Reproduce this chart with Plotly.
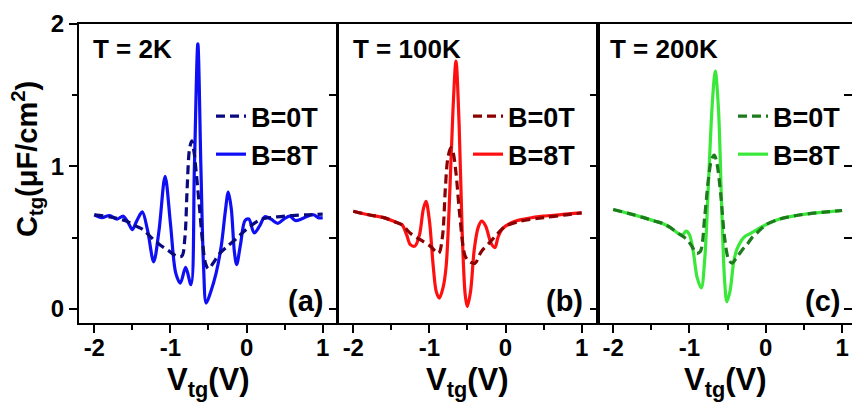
import plotly.graph_objects as go

# ---------------- data ----------------
# Panel (a) T = 2K
a_x_0T = [-2.0, -1.8, -1.6, -1.45, -1.36, -1.25, -1.14, -1.03, -0.92, -0.85, -0.81, -0.78, -0.75, -0.72,
          -0.69, -0.66, -0.62, -0.58, -0.54, -0.50, -0.44, -0.35, -0.25, -0.14, -0.02, 0.1, 0.2, 0.4, 0.6, 0.8, 1.0]
a_y_0T = [0.66, 0.645, 0.62, 0.58, 0.556, 0.50, 0.45, 0.41, 0.37, 0.37, 0.50, 0.85, 1.12, 1.18,
          1.10, 0.95, 0.72, 0.48, 0.32, 0.28, 0.32, 0.39, 0.44, 0.49, 0.55, 0.60, 0.63, 0.645, 0.655, 0.66, 0.665]
a_x_8T = [-2.0, -1.9, -1.8, -1.7, -1.62, -1.55, -1.50, -1.44, -1.37, -1.30, -1.22, -1.15, -1.07, -1.00,
          -0.93, -0.87, -0.80, -0.73, -0.685, -0.64, -0.60, -0.565, -0.53, -0.47, -0.40, -0.33, -0.28, -0.24,
          -0.20, -0.16, -0.13, -0.08, -0.02, 0.03, 0.10, 0.17, 0.24, 0.32, 0.41, 0.49, 0.57, 0.64, 0.72, 0.80,
          0.88, 0.94, 1.0]
a_y_8T = [0.66, 0.64, 0.655, 0.63, 0.65, 0.60, 0.556, 0.62, 0.68, 0.55, 0.33, 0.55, 0.93, 0.60,
          0.25, 0.18, 0.29, 0.17, 1.00, 1.86, 1.00, 0.30, 0.04, 0.12, 0.25, 0.45, 0.68, 0.82,
          0.70, 0.40, 0.31, 0.45, 0.62, 0.63, 0.533, 0.58, 0.646, 0.63, 0.60, 0.63, 0.65, 0.62, 0.63, 0.65,
          0.66, 0.64, 0.64]

# Panel (b) T = 100K
b_x_0T = [-2.0, -1.8, -1.6, -1.45, -1.36, -1.25, -1.12, -0.99, -0.88, -0.83, -0.79, -0.76, -0.72, -0.69,
          -0.65, -0.60, -0.53, -0.47, -0.40, -0.32, -0.20, -0.10, 0.0, 0.2, 0.5, 0.8, 1.0]
b_y_0T = [0.685, 0.66, 0.64, 0.61, 0.59, 0.53, 0.485, 0.44, 0.39, 0.50, 0.85, 1.05, 1.13, 1.10,
          0.95, 0.65, 0.37, 0.33, 0.32, 0.40, 0.47, 0.53, 0.58, 0.615, 0.64, 0.66, 0.674]
b_x_8T = [-2.0, -1.8, -1.6, -1.45, -1.36, -1.30, -1.25, -1.19, -1.13, -1.08, -1.045, -1.00, -0.95,
          -0.91, -0.87, -0.82, -0.78, -0.73, -0.69, -0.651, -0.61, -0.57, -0.53, -0.503, -0.46, -0.41,
          -0.36, -0.313, -0.26, -0.19, -0.139, -0.10, -0.05, 0.1, 0.3, 0.5, 0.7, 0.9, 1.0]
b_y_8T = [0.685, 0.66, 0.64, 0.61, 0.59, 0.52, 0.45, 0.44, 0.52, 0.70, 0.755, 0.62, 0.30,
          0.12, 0.075, 0.15, 0.30, 0.85, 1.40, 1.74, 1.30, 0.55, 0.10, 0.016, 0.12, 0.42,
          0.57, 0.615, 0.58, 0.46, 0.43, 0.50, 0.556, 0.61, 0.635, 0.65, 0.66, 0.67, 0.674]

# Panel (c) T = 200K
c_x_0T = [-2.0, -1.8, -1.6, -1.45, -1.36, -1.25, -1.15, -1.09, -1.03, -0.97, -0.91, -0.86, -0.80, -0.75,
          -0.71, -0.675, -0.64, -0.59, -0.54, -0.49, -0.443, -0.38, -0.30, -0.247, -0.18, -0.10, 0.0, 0.18,
          0.4, 0.6, 0.8, 1.0]
c_y_0T = [0.697, 0.67, 0.64, 0.615, 0.60, 0.57, 0.53, 0.51, 0.486, 0.44, 0.39, 0.40, 0.65, 0.92,
          1.05, 1.08, 1.02, 0.80, 0.50, 0.35, 0.32, 0.36, 0.42, 0.45, 0.50, 0.54, 0.59, 0.63,
          0.655, 0.67, 0.68, 0.69]
c_x_8T = [-2.0, -1.8, -1.6, -1.45, -1.36, -1.25, -1.15, -1.09, -1.045, -1.00, -0.95, -0.90, -0.845,
          -0.80, -0.75, -0.70, -0.662, -0.62, -0.58, -0.54, -0.51, -0.47, -0.42, -0.38, -0.29, -0.2,
          -0.116, 0.0, 0.18, 0.4, 0.6, 0.8, 1.0]
c_y_8T = [0.697, 0.67, 0.64, 0.615, 0.60, 0.57, 0.53, 0.52, 0.545, 0.52, 0.40, 0.22, 0.146,
          0.35, 0.90, 1.45, 1.67, 1.40, 0.75, 0.20, 0.05, 0.12, 0.33, 0.415, 0.50, 0.53,
          0.556, 0.59, 0.63, 0.655, 0.67, 0.68, 0.69]

panel_titles = ["T = 2K", "T = 100K", "T = 200K"]
panel_tags = ["(a)", "(b)", "(c)"]
legend_names = ["B=0T", "B=8T"]
x_ticks = [-2, -1, 0, 1]
y_ticks = [0, 1, 2]

# ---------------- styling ----------------
W, H = 852, 405
FONT = "Liberation Sans, Arial, sans-serif"
colors_0T = ["#0a0a80", "#8b0000", "#1d7a1d"]
colors_8T = ["#0f0ff5", "#ff1010", "#3ae83a"]

# pixel geometry of the three panels
px_left = [79, 338, 598]
px_right = [337, 598, 852]
x_ranges = [[-2.201, 1.188], [-2.201, 1.215], [-2.199, 1.13]]
top_px, bot_px = 24, 323
y_range = [-0.1, 2.0]

fig = go.Figure()

data = [(a_x_0T, a_y_0T, a_x_8T, a_y_8T),
        (b_x_0T, b_y_0T, b_x_8T, b_y_8T),
        (c_x_0T, c_y_0T, c_x_8T, c_y_8T)]

for i, (x0, y0, x8, y8) in enumerate(data):
    sfx = "" if i == 0 else str(i + 1)
    leg = "legend" if i == 0 else f"legend{i + 1}"
    fig.add_trace(go.Scatter(
        x=x8, y=y8, mode="lines", name=legend_names[1],
        line=dict(color=colors_8T[i], width=3.2, shape="spline", smoothing=0.9),
        xaxis="x" + sfx, yaxis="y" + sfx, legend=leg, legendrank=2))
    fig.add_trace(go.Scatter(
        x=x0, y=y0, mode="lines", name=legend_names[0],
        line=dict(color=colors_0T[i], width=3.2, dash="9px,5px", shape="spline", smoothing=0.9),
        xaxis="x" + sfx, yaxis="y" + sfx, legend=leg, legendrank=1))

ydom = [1 - bot_px / H, 1 - top_px / H]
tickfont = dict(family=FONT, size=24, color="black", weight="bold")
layout = dict(width=W, height=H, margin=dict(l=0, r=0, t=0, b=0),
              paper_bgcolor="white", plot_bgcolor="white", showlegend=True)

for i in range(3):
    sfx = "" if i == 0 else str(i + 1)
    xa = dict(domain=[px_left[i] / W, px_right[i] / W], range=x_ranges[i], anchor="y" + sfx,
              showline=True, linecolor="black", linewidth=2, mirror=True,
              ticks="outside", ticklen=8, tickwidth=2, tickcolor="black",
              tickvals=x_ticks, ticktext=[str(v) for v in x_ticks],
              minor=dict(ticks="outside", ticklen=5, tickwidth=2, tickcolor="black", dtick=0.5, showgrid=False),
              tickfont=tickfont, ticklabeloverflow="allow", ticklabelstandoff=-6,
              showgrid=False, zeroline=False, automargin=False)
    ya = dict(domain=ydom, range=y_range, anchor="x" + sfx,
              showline=True, linecolor="black", linewidth=2, mirror=(i < 2),
              showgrid=False, zeroline=False, automargin=False)
    if i == 0:
        ya.update(ticks="outside", ticklen=8, tickwidth=2, tickcolor="black",
                  tickvals=y_ticks, ticktext=[str(v) for v in y_ticks], tickfont=tickfont,
                  ticklabeloverflow="allow",
                  minor=dict(ticks="outside", ticklen=5, tickwidth=2, tickcolor="black", dtick=0.5, showgrid=False))
    else:
        ya.update(showticklabels=False, ticks="")
    layout["xaxis" + sfx] = xa
    layout["yaxis" + sfx] = ya
    # right-side inward ticks
    layout["yaxis" + str(i + 4)] = dict(overlaying="y" + sfx, anchor="x" + sfx, side="right",
                                        range=y_range, ticks="inside", ticklen=8, tickwidth=2,
                                        tickcolor="black", tickvals=[0, 0.5, 1, 1.5],
                                        showticklabels=False, showline=False, showgrid=False,
                                        zeroline=False, automargin=False)

# legends
leg_line_start = [217, 474, 739]
for i in range(3):
    key = "legend" if i == 0 else f"legend{i + 1}"
    layout[key] = dict(x=(leg_line_start[i] - 6) / W, y=1 - 92 / H, xanchor="left", yanchor="top",
                       bgcolor="rgba(0,0,0,0)", borderwidth=0,
                       font=dict(family=FONT, size=27, color="black", weight="bold"),
                       tracegroupgap=0, itemwidth=30, traceorder="normal")

fig.update_layout(**layout)

# dummy traces so that the overlay (right-side tick) axes render
for i in range(3):
    fig.add_trace(go.Scatter(x=[None], y=[None], xaxis="x" + ("" if i == 0 else str(i + 1)),
                             yaxis="y" + str(i + 4), showlegend=False, hoverinfo="skip"))

annots = []
title_left_px = [91, 351, 608]
tag_right_px = [325, 585, 842]
for i in range(3):
    annots.append(dict(text=panel_titles[i], x=title_left_px[i] / W, y=1 - 49 / H, xref="paper", yref="paper",
                       xanchor="left", yanchor="middle", showarrow=False,
                       font=dict(family=FONT, size=26, color="black", weight="bold")))
    annots.append(dict(text=panel_tags[i], x=tag_right_px[i] / W, y=1 - 301 / H, xref="paper", yref="paper",
                       xanchor="right", yanchor="middle", showarrow=False,
                       font=dict(family=FONT, size=29, color="black", weight="bold")))
    cx = (px_left[i] + min(px_right[i], px_left[i] + 258)) / 2
    annots.append(dict(text="V<sub>tg</sub>(V)", x=cx / W, y=1 - 382 / H, xref="paper", yref="paper",
                       xanchor="center", yanchor="middle", showarrow=False,
                       font=dict(family=FONT, size=31, color="black", weight="bold")))
annots.append(dict(text="C<sub>tg</sub>(μF/cm<sup>2</sup>)", x=27 / W, y=1 - 159 / H, xref="paper", yref="paper",
                   xanchor="center", yanchor="middle", textangle=-90, showarrow=False,
                   font=dict(family=FONT, size=29, color="black", weight="bold")))
fig.update_layout(annotations=annots)

fig.write_html("out.html", config={"displayModeBar": False},
               post_script="document.body.style.margin='0';document.body.style.overflow='hidden';")
